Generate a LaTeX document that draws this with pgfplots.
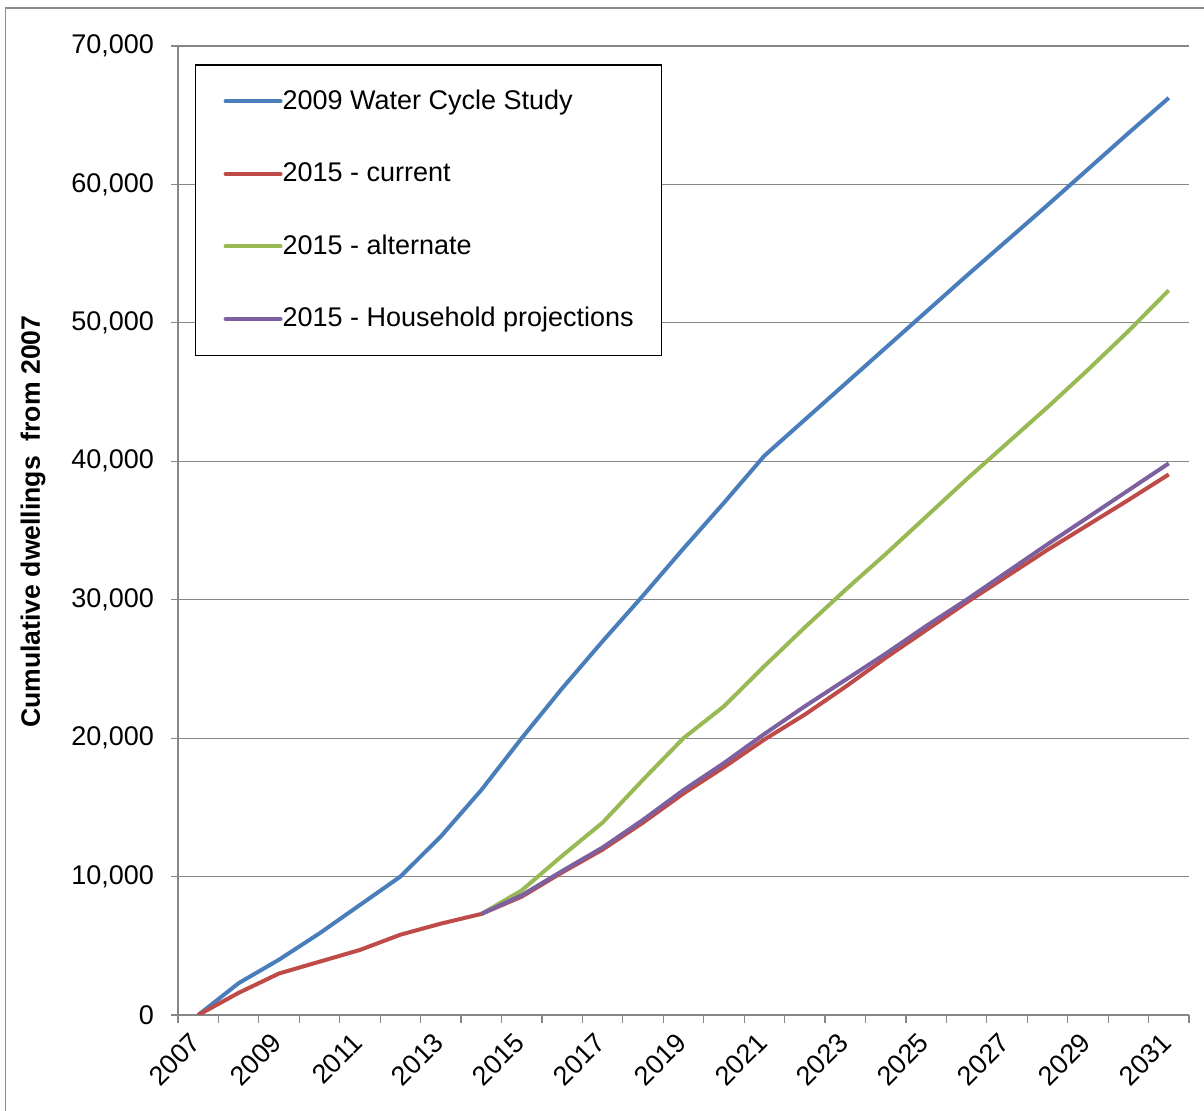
\documentclass[border=0pt]{standalone}
\usepackage{fontspec}
\setmainfont{Liberation Sans}
\usepackage{pgfplots}
\pgfplotsset{compat=1.18}
\definecolor{cBlue}{HTML}{4A7EBB}
\definecolor{cRed}{HTML}{BE4B48}
\definecolor{cGreen}{HTML}{98B954}
\definecolor{cPurple}{HTML}{7D60A0}
\definecolor{cGrid}{HTML}{868686}
\definecolor{cFrame}{HTML}{8C8C8C}
\begin{document}
\begin{tikzpicture}[x=1pt,y=1pt]
\useasboundingbox (0,0) rectangle (602,555.5);
\draw[cFrame, line width=0.75pt] (2.75,-20) rectangle (640,551.5);
\begin{axis}[
  at={(89pt,48pt)}, anchor=south west,
  scale only axis, width=505.5pt, height=484.5pt,
  xmin=-0.5, xmax=24.5, ymin=0, ymax=70000,
  axis x line*=bottom, axis y line*=left,
  axis line style={cGrid, line width=0.6pt, -},
  xtick={0,2,4,6,8,10,12,14,16,18,20,22,24},
  xticklabels={2007,2009,2011,2013,2015,2017,2019,2021,2023,2025,2027,2029,2031},
  major x tick style={draw=none},
  minor xtick={-0.5,0.5,...,24.5},
  ytick={0,10000,20000,30000,40000,50000,60000,70000},
  ymajorgrids, grid style={cGrid, line width=0.6pt},
  tick style={cGrid, line width=0.6pt},
  tick align=outside,
  major tick length=3.5pt, minor tick length=4pt,
  scaled y ticks=false,
  /pgf/number format/assume math mode=true,
  /pgf/number format/1000 sep={,},
  tick label style={font=\fontsize{13.5}{16}\selectfont, black},
  y tick label style={xshift=-5pt},
  x tick label style={rotate=45, anchor=east, xshift=2pt},
  xticklabel shift=7pt,
  ylabel={\textbf{Cumulative dwellings~ from 2007}},
  ylabel style={at={(axis description cs:-0.1434,0.509)}, anchor=center, font=\fontsize{13.3}{16}\selectfont},
  legend style={at={(0.0168,0.981)}, anchor=north west, draw=black, line width=0.6pt, fill=white,
    inner xsep=14pt, inner ysep=12.25pt, row sep=24.25pt,
    font=\fontsize{13.5}{16}\selectfont,
    nodes={inner xsep=0pt, inner ysep=0pt, text height=10pt, text depth=2pt}},
  legend cell align=left,
  legend image code/.code={\draw[line width=2pt, line cap=round] (0pt,0pt) -- (27.5pt,0pt);},
]
\addplot[cBlue, line width=2pt, line join=round] coordinates {
(0,0) (1,2300) (2,4000) (3,5900) (4,7950) (5,10000) (6,12900) (7,16250) (8,20000)
(9,23600) (10,27000) (11,30300) (12,33700) (13,37000) (14,40400) (15,43000) (16,45600)
(17,48200) (18,50800) (19,53400) (20,55950) (21,58500) (22,61100) (23,63700) (24,66250)};
\addlegendentry{2009 Water Cycle Study}
\addplot[cRed, line width=2pt, line join=round] coordinates {
(0,0) (1,1600) (2,3000) (3,3850) (4,4700) (5,5800) (6,6600) (7,7300) (8,8550)
(9,10300) (10,11950) (11,13900) (12,16000) (13,17900) (14,19900) (15,21700) (16,23700)
(17,25800) (18,27800) (19,29800) (20,31700) (21,33600) (22,35400) (23,37200) (24,39050)};
\addlegendentry{2015 - current}
\addplot[cGreen, line width=2pt, line join=round] coordinates {
(7,7300) (8,9000) (9,11500) (10,13900) (11,17000) (12,20000) (13,22300) (14,25200)
(15,28000) (16,30700) (17,33300) (18,36000) (19,38700) (20,41300) (21,43900) (22,46600)
(23,49400) (24,52350)};
\addlegendentry{2015 - alternate}
\addplot[cPurple, line width=2pt, line join=round] coordinates {
(7,7300) (8,8650) (9,10400) (10,12100) (11,14100) (12,16250) (13,18200) (14,20300)
(15,22300) (16,24200) (17,26100) (18,28100) (19,30000) (20,32000) (21,34000) (22,35950)
(23,37900) (24,39850)};
\addlegendentry{2015 - Household projections}
\end{axis}
\end{tikzpicture}
\end{document}
